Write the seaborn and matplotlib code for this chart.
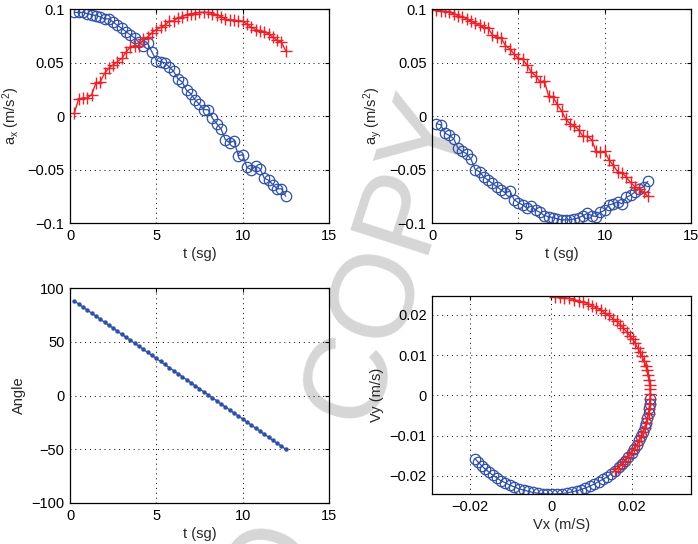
import numpy as np
import pandas as pd
import matplotlib
matplotlib.use("Agg")
import matplotlib.pyplot as plt
import seaborn as sns
from matplotlib.ticker import FuncFormatter, MultipleLocator

# tempo (s)
t = [0.25, 0.5, 0.75, 1.0, 1.25, 1.5, 1.75, 2.0, 2.25, 2.5,
     2.75, 3.0, 3.25, 3.5, 3.75, 4.0, 4.25, 4.5, 4.75, 5.0,
     5.25, 5.5, 5.75, 6.0, 6.25, 6.5, 6.75, 7.0, 7.25, 7.5,
     7.75, 8.0, 8.25, 8.5, 8.75, 9.0, 9.25, 9.5, 9.75, 10.0,
     10.25, 10.5, 10.75, 11.0, 11.25, 11.5, 11.75, 12.0, 12.25, 12.5]

# accelerazione x
ax_red = [0.003, 0.016, 0.017, 0.017, 0.020, 0.031, 0.032, 0.040, 0.045, 0.048,
          0.051, 0.054, 0.060, 0.065, 0.066, 0.066, 0.072, 0.074, 0.078, 0.081,
          0.083, 0.085, 0.089, 0.089, 0.092, 0.093, 0.095, 0.096, 0.096, 0.097,
          0.097, 0.097, 0.096, 0.095, 0.093, 0.091, 0.090, 0.090, 0.089, 0.089,
          0.086, 0.083, 0.081, 0.080, 0.079, 0.077, 0.074, 0.071, 0.069, 0.061]
ax_blue = [0.097, 0.097, 0.097, 0.096, 0.095, 0.094, 0.093, 0.091, 0.091, 0.088,
           0.085, 0.082, 0.079, 0.076, 0.073, 0.069, 0.066, 0.068, 0.060, 0.052,
           0.051, 0.050, 0.046, 0.042, 0.035, 0.032, 0.024, 0.021, 0.015, 0.011,
           0.006, 0.006, -0.002, -0.007, -0.012, -0.022, -0.025, -0.023, -0.037, -0.036,
           -0.048, -0.050, -0.047, -0.049, -0.058, -0.060, -0.064, -0.068, -0.068, -0.075]

# accelerazione y
ay_red = [0.099, 0.098, 0.098, 0.097, 0.096, 0.094, 0.093, 0.091, 0.089, 0.087,
          0.085, 0.083, 0.082, 0.076, 0.074, 0.073, 0.066, 0.063, 0.058, 0.054,
          0.053, 0.048, 0.041, 0.038, 0.032, 0.033, 0.019, 0.018, 0.011, 0.005,
          -0.003, -0.007, -0.009, -0.013, -0.019, -0.019, -0.022, -0.033, -0.034, -0.033,
          -0.041, -0.046, -0.052, -0.053, -0.057, -0.062, -0.066, -0.068, -0.071, -0.075]
ay_blue = [-0.007, -0.008, -0.016, -0.018, -0.021, -0.030, -0.033, -0.035, -0.040, -0.050,
           -0.052, -0.057, -0.060, -0.063, -0.066, -0.069, -0.072, -0.070, -0.078, -0.081,
           -0.083, -0.086, -0.084, -0.088, -0.090, -0.093, -0.094, -0.095, -0.096, -0.097,
           -0.097, -0.097, -0.096, -0.095, -0.093, -0.091, -0.093, -0.094, -0.090, -0.088,
           -0.083, -0.082, -0.080, -0.082, -0.076, -0.074, -0.071, -0.068, -0.066, -0.061]

# angolo
angle = [88.0, 85.2, 82.4, 79.6, 76.7, 73.9, 71.1, 68.3, 65.5, 62.7,
         59.8, 57.0, 54.2, 51.4, 48.6, 45.8, 42.9, 40.1, 37.3, 34.5,
         31.7, 28.9, 26.0, 23.2, 20.4, 17.6, 14.8, 12.0, 9.1, 6.3,
         3.5, 0.7, -2.1, -4.9, -7.8, -10.6, -13.4, -16.2, -19.0, -21.8,
         -24.7, -27.5, -30.3, -33.1, -35.9, -38.7, -41.6, -44.4, -47.2, -50.0]

# velocita
vx_red = [0.0009, 0.0021, 0.0032, 0.0044, 0.0056, 0.0068, 0.0079, 0.0091, 0.0102, 0.0112,
          0.0123, 0.0133, 0.0143, 0.0153, 0.0162, 0.0171, 0.0179, 0.0187, 0.0195, 0.0202,
          0.0208, 0.0214, 0.0220, 0.0225, 0.0230, 0.0234, 0.0237, 0.0240, 0.0242, 0.0244,
          0.0245, 0.0245, 0.0245, 0.0244, 0.0243, 0.0241, 0.0238, 0.0235, 0.0232, 0.0227,
          0.0223, 0.0217, 0.0212, 0.0205, 0.0198, 0.0191, 0.0183, 0.0175, 0.0166, 0.0157]
vy_red = [0.0245, 0.0244, 0.0243, 0.0241, 0.0238, 0.0235, 0.0232, 0.0228, 0.0223, 0.0218,
          0.0212, 0.0205, 0.0199, 0.0191, 0.0184, 0.0176, 0.0167, 0.0158, 0.0148, 0.0139,
          0.0129, 0.0118, 0.0107, 0.0097, 0.0085, 0.0074, 0.0063, 0.0051, 0.0039, 0.0027,
          0.0015, 0.0003, -0.0009, -0.0021, -0.0033, -0.0045, -0.0057, -0.0068, -0.0080, -0.0091,
          -0.0102, -0.0113, -0.0124, -0.0134, -0.0144, -0.0153, -0.0163, -0.0171, -0.0180, -0.0188]
vx_blue = [0.0245, 0.0244, 0.0243, 0.0241, 0.0238, 0.0235, 0.0232, 0.0228, 0.0223, 0.0218,
           0.0212, 0.0205, 0.0199, 0.0191, 0.0184, 0.0176, 0.0167, 0.0158, 0.0148, 0.0139,
           0.0129, 0.0118, 0.0107, 0.0097, 0.0085, 0.0074, 0.0063, 0.0051, 0.0039, 0.0027,
           0.0015, 0.0003, -0.0009, -0.0021, -0.0033, -0.0045, -0.0057, -0.0068, -0.0080, -0.0091,
           -0.0102, -0.0113, -0.0124, -0.0134, -0.0144, -0.0153, -0.0163, -0.0171, -0.0180, -0.0188]
vy_blue = [-0.0009, -0.0021, -0.0032, -0.0044, -0.0056, -0.0068, -0.0079, -0.0091, -0.0102, -0.0112,
           -0.0123, -0.0133, -0.0143, -0.0153, -0.0162, -0.0171, -0.0179, -0.0187, -0.0195, -0.0202,
           -0.0208, -0.0214, -0.0220, -0.0225, -0.0230, -0.0234, -0.0237, -0.0240, -0.0242, -0.0244,
           -0.0245, -0.0245, -0.0245, -0.0244, -0.0243, -0.0241, -0.0238, -0.0235, -0.0232, -0.0227,
           -0.0223, -0.0217, -0.0212, -0.0205, -0.0198, -0.0191, -0.0183, -0.0175, -0.0166, -0.0157]

sns.set_style("white")
plt.rcParams['font.family'] = ['Liberation Sans', 'DejaVu Sans']
plt.rcParams['mathtext.fontset'] = 'custom'
plt.rcParams['mathtext.rm'] = 'Liberation Sans'
plt.rcParams['mathtext.it'] = 'Liberation Sans'
plt.rcParams['mathtext.default'] = 'rm'

ROSSO = '#e8232b'
BLU = '#2f50a6'

def fmt(v, pos):
    s = '%g' % round(v, 6)
    if s == '-0':
        s = '0'
    return s.replace('-', '\u2212')

def stile(ax, xlim, ylim, xstep, ystep):
    ax.set_facecolor('none')
    ax.set_xlim(*xlim)
    ax.set_ylim(*ylim)
    ax.xaxis.set_major_locator(MultipleLocator(xstep))
    ax.yaxis.set_major_locator(MultipleLocator(ystep))
    ax.xaxis.set_major_formatter(FuncFormatter(fmt))
    ax.yaxis.set_major_formatter(FuncFormatter(fmt))
    ax.grid(True, color='black', linestyle=(0, (1, 4)), linewidth=0.7)
    ax.tick_params(direction='in', length=3, width=0.8, labelsize=10.5,
                   top=True, right=True, colors='black', pad=4)
    for s in ax.spines.values():
        s.set_visible(True)
        s.set_color('black')
        s.set_linewidth(0.9)

fig = plt.figure(figsize=(6.98, 5.44), dpi=100)

# filigrana
fig.text(390 / 698, 1 - 257 / 544, 'COPY', fontsize=86, color='#d6d6d6', rotation=72,
         ha='center', va='center', rotation_mode='anchor', zorder=-1)
fig.text(272 / 698, 1 - 568 / 544, 'O', fontsize=86, color='#d6d6d6', rotation=72,
         ha='center', va='center', rotation_mode='anchor', zorder=-1)

a1 = fig.add_axes([0.1003, 0.590, 0.371, 0.393])
a2 = fig.add_axes([0.619, 0.590, 0.371, 0.393])
a3 = fig.add_axes([0.1003, 0.0754, 0.371, 0.395])
a4 = fig.add_axes([0.619, 0.0919, 0.371, 0.364])

df = pd.DataFrame({'t': t, 'ax_r': ax_red, 'ax_b': ax_blue, 'ay_r': ay_red,
                   'ay_b': ay_blue, 'ang': angle})
dv = pd.DataFrame({'vxr': vx_red, 'vyr': vy_red, 'vxb': vx_blue, 'vyb': vy_blue})

kw_r = dict(color=ROSSO, marker='+', markersize=8, markeredgewidth=1.0,
            markeredgecolor=ROSSO, linewidth=1.0)
kw_b = dict(color=BLU, marker='o', markersize=7.5, markerfacecolor='none',
            markeredgecolor=BLU, markeredgewidth=0.9, linewidth=0.9)

sns.lineplot(data=df, x='t', y='ax_b', ax=a1, estimator=None, sort=False, **kw_b)
sns.lineplot(data=df, x='t', y='ax_r', ax=a1, estimator=None, sort=False, **kw_r)
stile(a1, (0, 15), (-0.1, 0.1), 5, 0.05)
a1.set_xlabel('t (sg)', fontsize=10.5)
a1.set_ylabel(r'a$_x$ (m/s$^2$)', fontsize=10.5)

sns.lineplot(data=df, x='t', y='ay_b', ax=a2, estimator=None, sort=False, **kw_b)
sns.lineplot(data=df, x='t', y='ay_r', ax=a2, estimator=None, sort=False, **kw_r)
stile(a2, (0, 15), (-0.1, 0.1), 5, 0.05)
a2.set_xlabel('t (sg)', fontsize=10.5)
a2.set_ylabel(r'a$_y$ (m/s$^2$)', fontsize=10.5)

sns.lineplot(data=df, x='t', y='ang', ax=a3, estimator=None, sort=False,
             color=BLU, marker='o', markersize=3.2, markeredgewidth=0, linewidth=1.0)
stile(a3, (0, 15), (-100, 100), 5, 50)
a3.set_xlabel('t (sg)', fontsize=10.5)
a3.set_ylabel('Angle', fontsize=10.5)

sns.lineplot(data=dv, x='vxb', y='vyb', ax=a4, estimator=None, sort=False, **kw_b)
sns.lineplot(data=dv, x='vxr', y='vyr', ax=a4, estimator=None, sort=False, **kw_r)
stile(a4, (-0.0294, 0.0346), (-0.0245, 0.0247), 0.02, 0.01)
a4.set_xlabel('Vx (m/S)', fontsize=10.5)
a4.set_ylabel('Vy (m/s)', fontsize=10.5)

for a in (a1, a2, a3, a4):
    a.xaxis.labelpad = 3
    a.yaxis.labelpad = 4

fig.savefig('out.png', dpi=100)
